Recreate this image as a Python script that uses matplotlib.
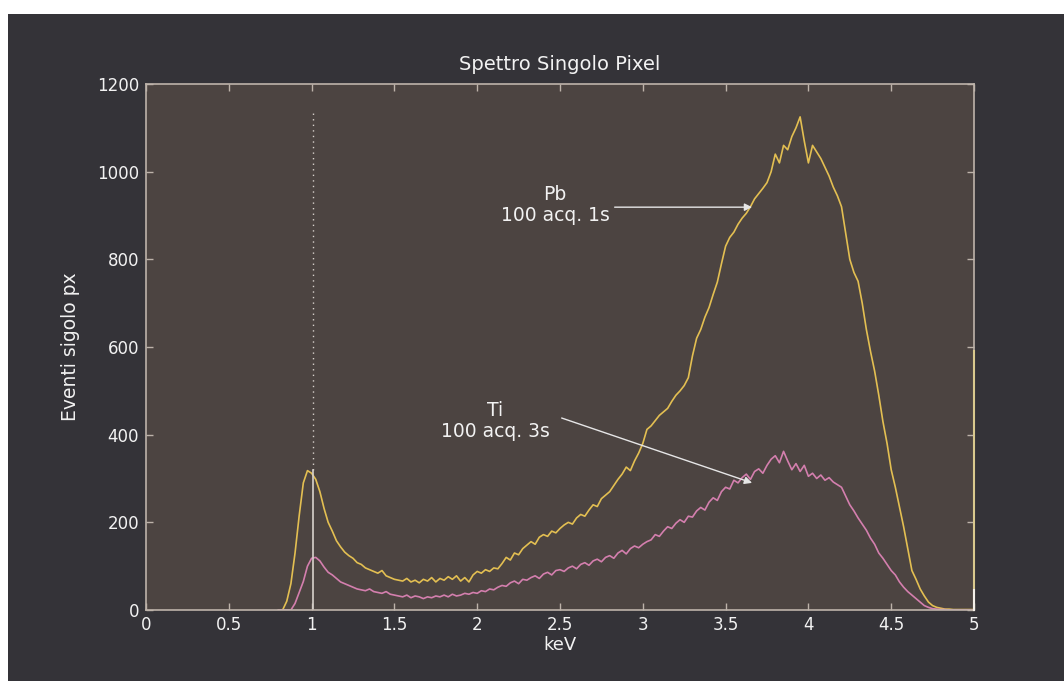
import numpy as np
import matplotlib
matplotlib.use('Agg')
import matplotlib.pyplot as plt
from matplotlib.patches import Rectangle

plt.rcParams['font.family'] = ['DejaVu Sans']

# energy grid (keV), 0.8 .. 5.0 step 0.025
energy = np.round(np.arange(0.8, 5.0001, 0.025), 3)

# Pb, 100 acquisitions of 1 s
pb_counts = [
    0, 0, 20, 60, 130, 215, 290, 318, 312, 298,
    270, 232, 200, 180, 158, 144, 132, 124, 118, 108,
    104, 96, 92, 88, 84, 90, 78, 74, 70, 68,
    66, 72, 64, 68, 62, 70, 66, 74, 64, 72,
    68, 76, 70, 78, 66, 74, 64, 80, 88, 84,
    92, 88, 96, 94, 106, 120, 114, 130, 126, 140,
    148, 156, 150, 166, 172, 168, 180, 176, 186, 194,
    200, 196, 210, 218, 214, 228, 240, 236, 254, 262,
    270, 284, 298, 310, 326, 318, 340, 358, 380, 412,
    420, 432, 444, 452, 460, 476, 490, 500, 512, 530,
    580, 620, 640, 668, 690, 720, 748, 790, 830, 850,
    862, 880, 894, 905, 920, 938, 950, 962, 975, 1000,
    1040, 1020, 1060, 1050, 1080, 1100, 1125, 1070, 1020, 1060,
    1045, 1030, 1010, 990, 965, 945, 920, 860, 800, 770,
    750, 700, 640, 590, 545, 490, 430, 380, 320, 280,
    235, 190, 140, 90, 70, 48, 32, 18, 10, 6,
    4, 2, 2, 1, 1, 1, 1, 1, 1,
]

# Ti, 100 acquisitions of 3 s
ti_counts = [
    0, 0, 0, 0, 15, 40, 65, 100, 118, 120,
    112, 98, 86, 80, 72, 64, 60, 56, 52, 48,
    46, 44, 48, 42, 40, 38, 42, 36, 34, 32,
    30, 34, 28, 32, 30, 26, 30, 28, 32, 30,
    34, 30, 36, 32, 34, 38, 36, 40, 38, 44,
    42, 48, 46, 52, 56, 54, 62, 66, 60, 70,
    68, 74, 78, 72, 82, 86, 80, 90, 92, 88,
    96, 100, 94, 104, 108, 102, 112, 116, 110, 120,
    124, 118, 130, 136, 128, 140, 146, 142, 150, 156,
    160, 172, 168, 180, 190, 186, 198, 206, 200, 214,
    212, 226, 234, 228, 246, 256, 250, 270, 280, 276,
    296, 290, 302, 310, 298, 316, 322, 312, 330, 344,
    352, 336, 362, 340, 320, 334, 316, 330, 305, 312,
    300, 308, 296, 302, 292, 286, 280, 260, 240, 226,
    210, 196, 182, 164, 150, 130, 118, 104, 90, 80,
    64, 52, 42, 34, 26, 18, 10, 6, 3, 2,
    1, 1, 0, 0, 0, 0, 0, 0, 0,
]

# last channel spikes at 5 keV
spike_e = [5.0, 5.0]
pb_spike = [0, 590]
ti_spike = [0, 45]

# marker line near 1 keV
marker_e = [1.01, 1.01]
marker_solid = [0, 320]
marker_dotted = [320, 1140]

fig_bg = '#343338'
ax_bg = '#4c4441'
spine_c = '#bdb3aa'
text_c = '#f2f2f2'

fig = plt.figure(figsize=(10.64, 6.81), dpi=100, facecolor='white')
# dark panel, leaving white strip at top and left like the screenshot
fig.patches.append(Rectangle((8 / 1064, 0), 1 - 8 / 1064, 1 - 14 / 681,
                             transform=fig.transFigure, facecolor=fig_bg,
                             edgecolor='none', zorder=-10))

ax = fig.add_axes([146 / 1064, 71 / 681, 828 / 1064, 526 / 681])
ax.set_facecolor(ax_bg)

ax.plot(energy, pb_counts, color='#e3bf52', lw=1.2)
ax.plot(energy, ti_counts, color='#d47fae', lw=1.2)
ax.plot(spike_e, pb_spike, color='#d9c98e', lw=1.5, zorder=3, clip_on=False)
ax.plot(spike_e, ti_spike, color='#f4f0ea', lw=1.5, zorder=3, clip_on=False)
ax.plot(marker_e, marker_solid, color='#d8d2cc', lw=1.2)
ax.plot(marker_e, marker_dotted, color='#d8d2cc', lw=1.0, linestyle=(0, (1, 3)))

ax.set_xlim(0, 5)
ax.set_ylim(0, 1200)
ax.set_xticks([0, 0.5, 1, 1.5, 2, 2.5, 3, 3.5, 4, 4.5, 5])
ax.set_xticklabels(['0', '0.5', '1', '1.5', '2', '2.5', '3', '3.5', '4', '4.5', '5'])
ax.set_yticks([0, 200, 400, 600, 800, 1000, 1200])

for s in ax.spines.values():
    s.set_color(spine_c)
    s.set_linewidth(1.2)
ax.tick_params(direction='in', length=5, width=1, color=spine_c,
               top=True, right=True, labelsize=12, labelcolor=text_c)
ax.tick_params(axis='x', pad=4)
ax.tick_params(axis='y', pad=5)

ax.set_title('Spettro Singolo Pixel', color=text_c, fontsize=14, pad=10)
ax.set_xlabel('keV', color=text_c, fontsize=13, labelpad=2)
ax.set_ylabel('Eventi sigolo px', color=text_c, fontsize=13.5, labelpad=12)

arrow = dict(arrowstyle='-|>', color='#e6e6e6', lw=1.0, mutation_scale=11,
             shrinkA=0, shrinkB=0)
ax.annotate('', xy=(3.66, 919), xytext=(2.83, 919), arrowprops=arrow)
ax.text(2.47, 924, 'Pb\n100 acq. 1s', color=text_c, fontsize=13.5,
        ha='center', va='center', linespacing=1.15)
ax.annotate('', xy=(3.66, 290), xytext=(2.51, 438), arrowprops=arrow)
ax.text(2.11, 431, 'Ti\n100 acq. 3s', color=text_c, fontsize=13.5,
        ha='center', va='center', linespacing=1.15)

fig.savefig('out.png', dpi=100, facecolor=fig.get_facecolor())
